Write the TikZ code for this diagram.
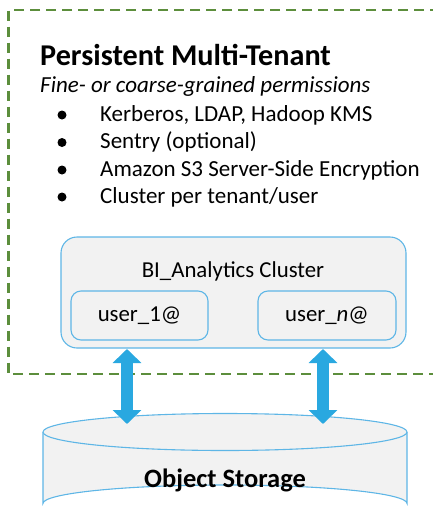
\documentclass[tikz,border=0pt]{standalone}
\usepackage{fontspec}
\setmainfont{Carlito}
\usetikzlibrary{arrows.meta}
\definecolor{dashgreen}{RGB}{92,142,60}
\definecolor{boxblue}{RGB}{94,182,230}
\definecolor{arrowblue}{RGB}{41,168,224}
\definecolor{boxfill}{RGB}{242,242,242}
\tikzset{
  txt/.style={inner sep=0pt, anchor=base west, font=\fontsize{23}{27}\selectfont},
  bul/.style={circle, fill=black, inner sep=0pt, minimum size=9pt},
  rbox/.style={draw=boxblue, line width=1.1pt, fill=boxfill, rounded corners=12pt, inner sep=0pt},
  dblarrow/.style={draw=arrowblue, line width=12pt, {Triangle[width=28pt,length=14pt]}-{Triangle[width=28pt,length=14pt]}},
  zone/.style={draw=dashgreen, line width=2.8pt, dash pattern=on 10pt off 6pt}
}
\begin{document}
\begin{tikzpicture}[x=1pt,y=-1pt]
\useasboundingbox (0,0) rectangle (433,523);
% dashed zone
\draw[zone] (440,10) -- (8.5,10) -- (8.5,374) -- (440,374);
% title and text
\node[anchor=base west, inner sep=0pt, font=\bfseries\fontsize{30.2}{34}\selectfont] (title) at (40,65) {Persistent Multi-Tenant};
\node[txt, font=\itshape\fontsize{23}{27}\selectfont] (sub) at (40,92) {Fine- or coarse-grained permissions};
\node[txt] (l1) at (100,121) {Kerberos, LDAP, Hadoop KMS};
\node[txt] (l2) at (100,148.5) {Sentry (optional)};
\node[txt] (l3) at (100,176) {Amazon S3 Server-Side Encryption};
\node[txt] (l4) at (100,203) {Cluster per tenant/user};
\node[bul] (b1) at (62,115) {};
\node[bul] (b2) at (62,142.5) {};
\node[bul] (b3) at (62,170) {};
\node[bul] (b4) at (62,197) {};
% cylinder
\fill[boxfill] (43,432) -- (43,503.5) arc[start angle=180, end angle=360, x radius=182, y radius=18.5] -- (407,432) -- cycle;
\draw[boxblue, line width=1.1pt] (43,432) -- (43,503.5) arc[start angle=180, end angle=360, x radius=182, y radius=18.5] -- (407,432);
\draw[boxblue, line width=1.1pt, fill=boxfill] (225,432) ellipse[x radius=182, y radius=18.5];
\node[inner sep=0pt, anchor=base, font=\bfseries\fontsize{26.5}{30}\selectfont] (store) at (225,487) {Object Storage};
% cluster
\node[rbox, minimum width=345pt, minimum height=111pt, rounded corners=16pt] (cluster) at (233.5,292.5) {};
\node[inner sep=0pt, anchor=base, font=\fontsize{22.8}{27}\selectfont] (clabel) at (233,277) {BI\_Analytics Cluster};
\node[rbox, minimum width=137pt, minimum height=49pt, rounded corners=10pt, font=\fontsize{22.8}{27}\selectfont] (u1) at (139.5,315.5) {user\_1@};
\node[rbox, minimum width=138pt, minimum height=49pt, rounded corners=10pt, font=\fontsize{22.8}{27}\selectfont] (un) at (327,315.5) {user\_\textit{n}@};
% arrows
\coordinate (a1t) at (127,349);
\coordinate (a1b) at (127,424);
\coordinate (a2t) at (323,349);
\coordinate (a2b) at (323,424);
\draw[dblarrow] (a1t) -- (a1b);
\draw[dblarrow] (a2t) -- (a2b);
\end{tikzpicture}
\end{document}
